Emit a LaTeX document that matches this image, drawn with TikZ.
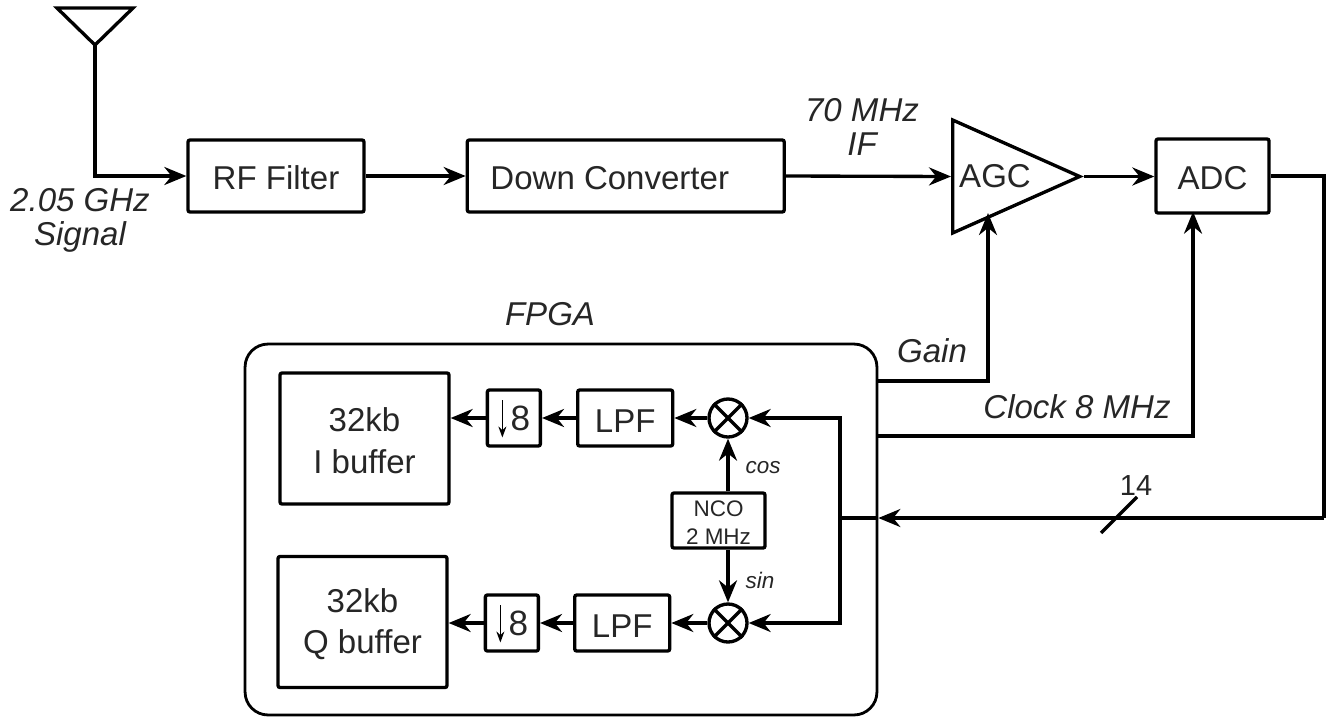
\documentclass[tikz,border=0pt]{standalone}
\usepackage{fontspec}
\setmainfont{Liberation Sans}
\usetikzlibrary{positioning,arrows.meta,shapes.geometric}

\begin{document}
\begin{tikzpicture}[
        x=0.02cm,
        y=-0.02cm,
        every node/.style={font=\fontsize{18.8}{19.4}\selectfont, text=black!85},
        block/.style={
            rectangle,
            rounded corners=0.04cm,
            draw=black,
            line width=1.9pt,
            align=center,
            inner sep=0pt,
            text height=0.56cm,
            minimum width=3.52cm,
            minimum height=1.44cm
        },
        buffer/.style={
            block,
            text height=1.4cm,
            minimum width=3.38cm,
            minimum height=2.62cm
        },
        decim/.style={
            block,
            font=\fontsize{20}{20}\selectfont,
            text height=0.5cm,
            minimum width=1.06cm,
            minimum height=1.12cm
        },
        lpf/.style={
            block,
            minimum width=1.9cm,
            minimum height=1.12cm
        },
        mixer/.style={
            circle,
            draw=black,
            line width=1.9pt,
            inner sep=0pt,
            minimum size=0.76cm
        },
        amp/.style={
            isosceles triangle,
            isosceles triangle stretches,
            draw=black,
            line width=1.9pt,
            inner sep=0pt,
            minimum width=2.26cm,
            minimum height=2.54cm
        },
        arrow/.style={
            -{Stealth[length=0.44cm,width=0.36cm]},
            line width=1.9pt
        },
        wire/.style={
            line width=1.9pt
        },
        thinarrow/.style={
            -{Stealth[length=0.22cm,width=0.16cm]},
            line width=0.8pt
        },
        caption/.style={
            font=\itshape\fontsize{18.8}{19.4}\selectfont,
            align=center
        },
        small/.style={
            font=\itshape\fontsize{12.8}{15}\selectfont
        }
    ]

    \useasboundingbox (0,0) rectangle (1327,717);

    % main row
    \node[block] (rf) at (276,176) {RF Filter};
    \node[block, minimum width=6.34cm, right=2.0cm of rf] (down)
    {Down Converter\hspace{0.64cm}};
    \node[amp, anchor=lower side] (agc) at (951,176.5) {};
    \node (agctext) at (995,176) {AGC};
    \node[block, minimum width=2.26cm, minimum height=1.48cm] (adc) at (1212.5,176) {ADC};

    % antenna
    \draw[wire, line join=miter] (57,8) -- (133,8) -- (95,45) -- cycle;
    \coordinate (ant) at (95,45);

    % FPGA box
    \node[draw=black, line width=1.6pt, rounded corners=0.46cm, inner sep=0pt,
        minimum width=12.64cm, minimum height=7.42cm] (fpga) at (561,529.5) {};

    % upper branch
    \node[mixer] (mixi) at (728,418) {};
    \node[lpf, left=0.66cm of mixi] (lpfi) {LPF};
    \node[decim, left=0.68cm of lpfi] (deci) {\hspace{0.26cm}8};
    \node[buffer] (bufi) at (364.5,438.5)
    {32kb\\[4.4pt]I buffer};

    % lower branch
    \node[mixer] (mixq) at (728,623) {};
    \node[lpf, left=0.72cm of mixq] (lpfq) {LPF};
    \node[decim, left=0.66cm of lpfq] (decq) {\hspace{0.26cm}8};
    \node[buffer] (bufq) at (362.5,622)
    {32kb\\[4.4pt]Q buffer};

    % oscillator
    \node[block, font=\fontsize{12.8}{16}\selectfont, text height=0.97cm,
        minimum width=1.86cm, minimum height=1.1cm] (nco) at (718.5,520.5)
    {NCO\\2 MHz};

    \foreach \m in {mixi,mixq}{
        \draw[wire] (\m.north west) -- (\m.south east);
        \draw[wire] (\m.north east) -- (\m.south west);
    }

    % labels
    \node[caption] (siglabel) at (80,220) {2.05 GHz\\Signal};
    \node[caption] (iflabel) at (862,127) {70 MHz\\IF};
    \node[caption] (fpgalabel) at (550,314) {FPGA};
    \node[caption] (gainlabel) at (932,351) {Gain};
    \node[caption] (clocklabel) at (1077,407) {Clock 8 MHz};
    \node[small] (coslabel) at (763,468) {cos};
    \node[small] (sinlabel) at (760,580) {sin};
    \node[font=\fontsize{16.5}{17}\selectfont] (buslabel) at (1136,486) {14};

    % arrows
    \draw[arrow] (ant) |- (rf.west);
    \draw[arrow] (rf) -- (down);
    \draw[arrow] (down.east) -- (agc.lower side);
    \draw[arrow] (agc.apex) -- (adc.west |- agc.apex);

    \coordinate (gainstart) at (fpga.east |- 0,381);
    \coordinate (gainend) at (988,213);
    \draw[arrow] (gainstart) -| (gainend);

    \coordinate (clockstart) at (fpga.east |- 0,436);
    \draw[arrow] (clockstart) -| ([xshift=-0.39cm,yshift=0.06cm]adc.south);

    \coordinate (adcout) at (1324,518);
    \coordinate (busin) at (fpga.east |- adcout);
    \coordinate (fork) at (840,518);
    \draw[wire] (adc.east) -| (adcout);
    \draw[arrow] (adcout) -- (busin);
    \draw[wire] (busin) -- (fork);
    \draw[arrow] (fork) |- (mixi.east);
    \draw[arrow] (fork) |- (mixq.east);

    \draw[arrow] (mixi) -- (lpfi);
    \draw[arrow] (lpfi) -- (deci);
    \draw[arrow] (deci) -- (deci -| bufi.east);
    \draw[arrow] (mixq) -- (lpfq);
    \draw[arrow] (lpfq) -- (decq);
    \draw[arrow] (decq) -- (decq -| bufq.east);

    \draw[arrow] (nco.north -| mixi) -- (mixi);
    \draw[arrow] (nco.south -| mixq) -- (mixq);

    % bus slash and decimator arrows
    \coordinate (slashlow) at (1101,533);
    \coordinate (slashhigh) at (1137,497);
    \draw[wire] (slashlow) -- (slashhigh);
    \draw[thinarrow] ([xshift=-0.23cm,yshift=0.36cm]deci.center) -- ([xshift=-0.23cm,yshift=-0.39cm]deci.center);
    \draw[thinarrow] ([xshift=-0.23cm,yshift=0.36cm]decq.center) -- ([xshift=-0.23cm,yshift=-0.39cm]decq.center);

    \end{tikzpicture}
\end{document}
